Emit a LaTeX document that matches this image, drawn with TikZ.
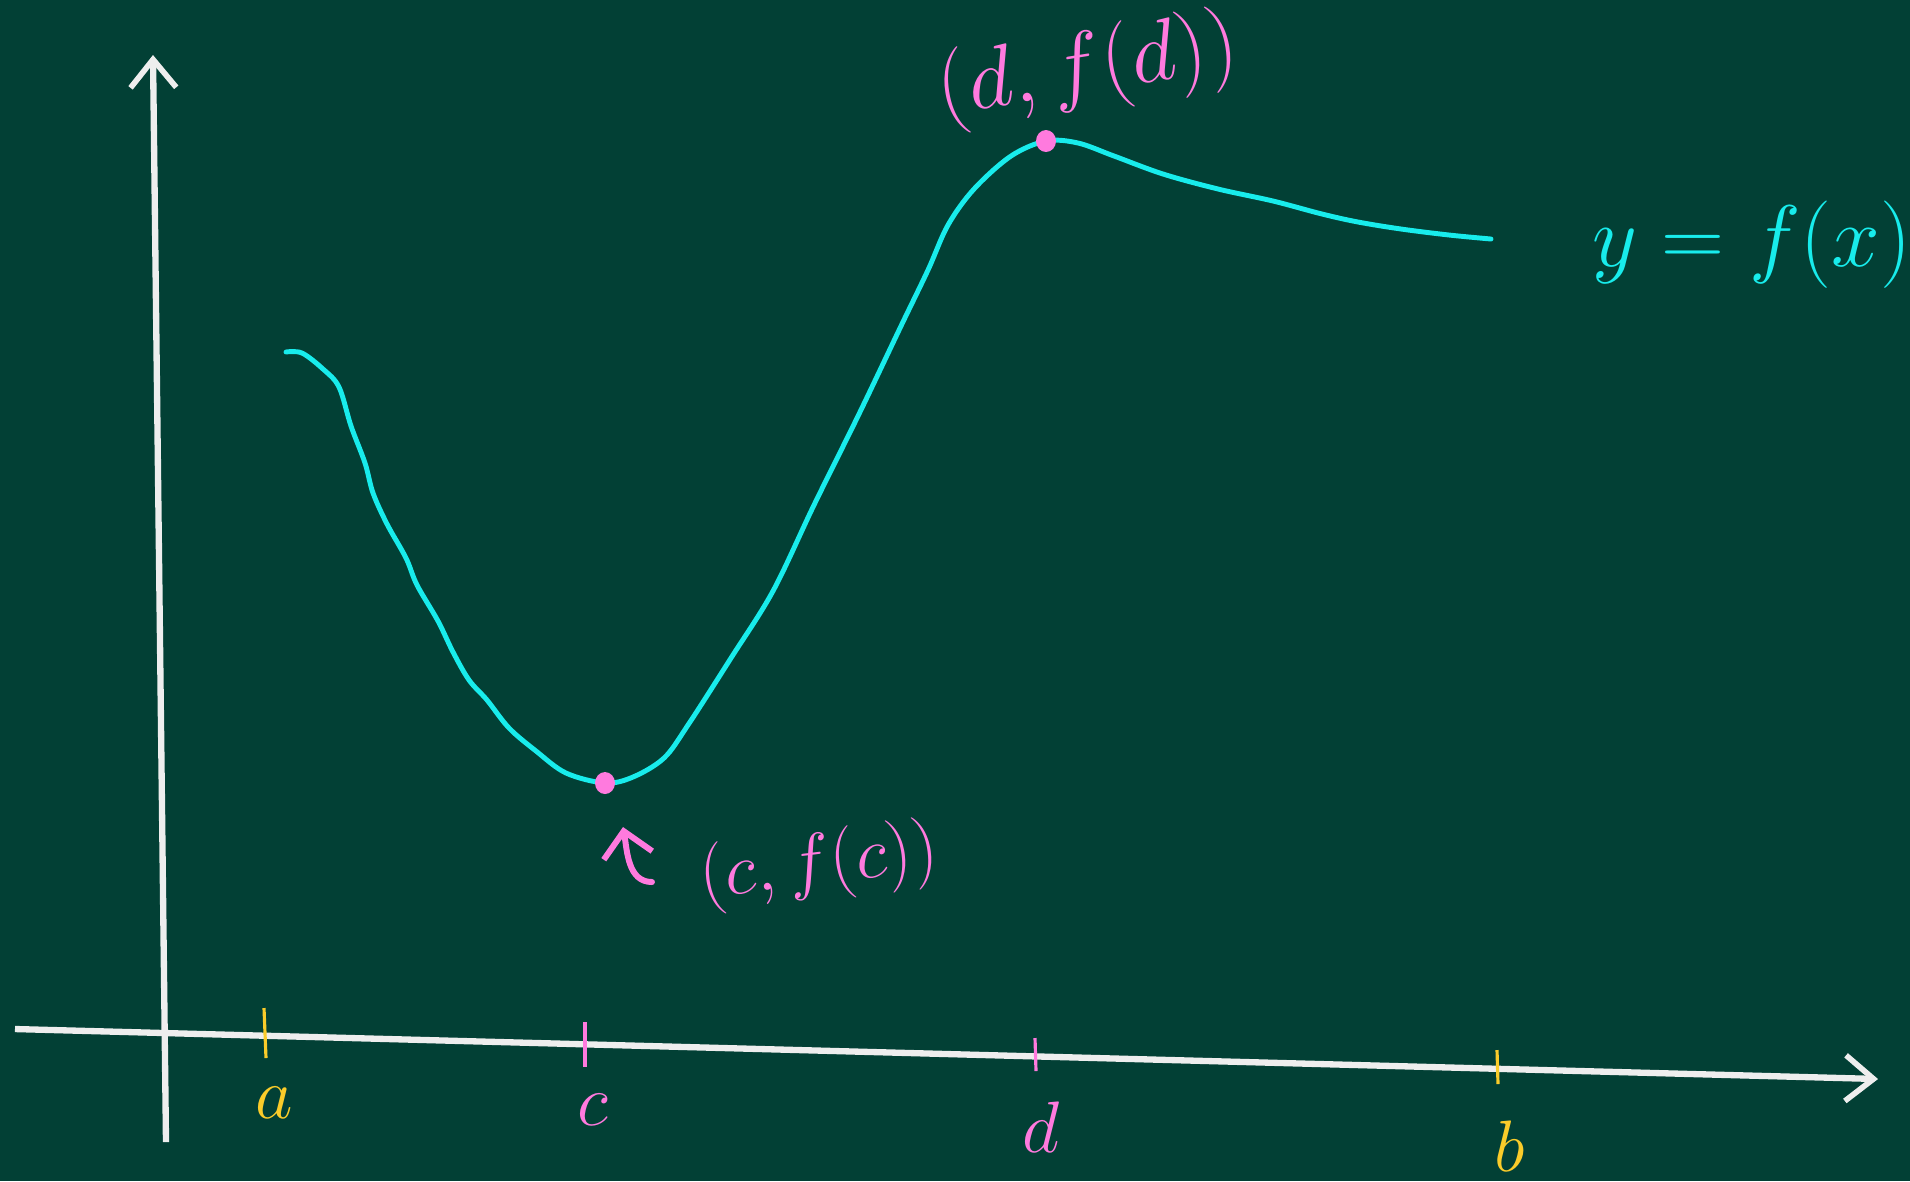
\documentclass[tikz,border=0pt]{standalone}
\usepackage{amsmath}
\usepackage{tikz}
\usetikzlibrary{arrows.meta}
\definecolor{board}{RGB}{2,64,53}
\definecolor{chalk}{RGB}{238,238,238}
\definecolor{fcurve}{RGB}{24,236,236}
\definecolor{pinkc}{RGB}{255,122,222}
\definecolor{ends}{RGB}{250,204,42}

\begin{document}
\begin{tikzpicture}[x=0.1mm, y=-0.1mm,
    axis/.style={chalk, line width=1.8pt, -{Straight Barb[length=8pt, width=13pt, line width=1.6pt]}},
    tick/.style={line width=0.9pt},
    curve/.style={fcurve, line width=1.4pt, line cap=round, line join=round},
    lbl/.style={font=\fontsize{22}{26}\selectfont, inner sep=0pt}]
  % Board
  \fill[board] (0,0) rectangle (1910,1181);
  \useasboundingbox (0,0) rectangle (1910,1181);
  % Axes
  \coordinate (ybot) at (166,1142);
  \coordinate (ytop) at (153,55);
  \coordinate (xleft) at (15,1029);
  \coordinate (xright) at (1878,1079);
  \draw[axis] (ybot) -- (ytop);
  \draw[axis] (xleft) -- (xright);
  % Ticks and their letters
  \draw[tick, ends] (264,1008) -- (266,1058);
  \draw[tick, pinkc] (585,1022) -- (585,1067);
  \draw[tick, pinkc] (1035,1038) -- (1036,1071);
  \draw[tick, ends] (1497,1050) -- (1498,1084);
  \node[lbl, ends] (ta) at (274,1103) {$a$};
  \node[lbl, pinkc] (tc) at (593,1110) {$c$};
  \node[lbl, pinkc] (td) at (1041,1127) {$d$};
  \node[lbl, ends] (tb) at (1510,1146) {$b$};
  % The function
  \draw[curve] plot[smooth, tension=0.55] coordinates {
    (286,352) (302,353) (323,369) (339,387) (351,426) (365,463) (373,493)
    (387,524) (406,558) (417,585) (438,621) (453,652) (469,680) (487,700)
    (509,728) (536,751) (566,773) (605,783) (633,777) (664,758) (688,725)
    (731,658) (773,591) (814,505) (859,414) (901,326) (928,270) (948,225)
    (974,189) (1011,156) (1046,141) (1078,143) (1114,156) (1163,174)
    (1218,189) (1273,201) (1322,214) (1358,222) (1401,229) (1449,235)
    (1491,239)};
  \node[lbl, fcurve, font=\fontsize{26}{30}\selectfont] (fx) at (1752,245) {$y = f(x)$};
  % Minimum and maximum
  \fill[pinkc] (605,783) ellipse (10 and 11);
  \fill[pinkc] (1046,141) ellipse (10 and 11);
  \node[lbl, pinkc, rotate=9, font=\fontsize{25}{30}\selectfont] (dpt) at (1088,70) {$(d, f(d))$};
  \node[lbl, pinkc, rotate=7, font=\fontsize{22}{26}\selectfont] (cpt) at (819,866) {$(c, f(c))$};
  \coordinate (ctail) at (652,882);
  \coordinate (ctip) at (623,827);
  \draw[pinkc, line width=1.7pt, line cap=round,
    -{Straight Barb[length=7pt, width=14pt, line width=1.7pt]}]
    (ctail) to[out=180, in=-80] (ctip);
\end{tikzpicture}
\end{document}
